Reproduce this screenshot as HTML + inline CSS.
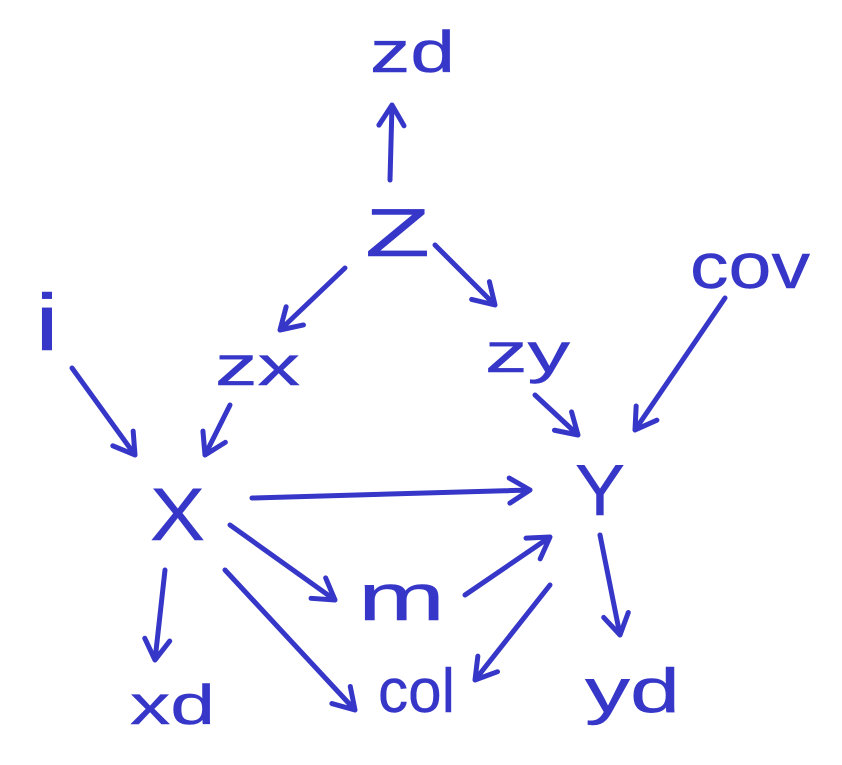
<!DOCTYPE html>
<html><head><meta charset="utf-8">
<style>
html,body{margin:0;padding:0;background:#fff;}
svg{display:block;}
text{font-family:"Liberation Sans",sans-serif;fill:#3636c8;stroke:#3636c8;stroke-width:0.4;}
</style></head>
<body>
<svg id="g" width="842" height="765" viewBox="0 0 842 765">
<g id="labels">
<text x="370" y="72" font-size="58" textLength="85" lengthAdjust="spacingAndGlyphs">zd</text>
<text x="365" y="256" font-size="68" textLength="65" lengthAdjust="spacingAndGlyphs">Z</text>
<text x="35" y="350" font-size="80" textLength="24" lengthAdjust="spacingAndGlyphs">i</text>
<text x="215" y="385" font-size="56" textLength="85" lengthAdjust="spacingAndGlyphs">zx</text>
<text x="485" y="372" font-size="56" textLength="85" lengthAdjust="spacingAndGlyphs">zy</text>
<text x="690" y="288" font-size="64" textLength="120" lengthAdjust="spacingAndGlyphs">cov</text>
<text x="150" y="540" font-size="74" textLength="55" lengthAdjust="spacingAndGlyphs">X</text>
<text x="575" y="515" font-size="72" textLength="50" lengthAdjust="spacingAndGlyphs">Y</text>
<text x="358" y="620" font-size="66" textLength="87" lengthAdjust="spacingAndGlyphs">m</text>
<text x="130" y="724" font-size="56" textLength="85" lengthAdjust="spacingAndGlyphs">xd</text>
<text x="378" y="712" font-size="62" textLength="77" lengthAdjust="spacingAndGlyphs">col</text>
<text x="585" y="712" font-size="62" textLength="95" lengthAdjust="spacingAndGlyphs">yd</text>
</g>
<g id="edges" stroke="#3636c8" stroke-width="5" fill="none" stroke-linecap="round" stroke-linejoin="round"></g>
</svg>
<script>
const edgeNames = ["z-zd","z-zx","z-zy","i-x","zx-x","zy-y","cov-y","x-y","x-m","x-xd","x-col","m-y","y-col","y-yd"];
const edgeFrom = [[390,180],[345,268],[435,245],[72,368],[230,405],[535,395],[725,298],[252,498],[230,525],[165,570],[225,570],[465,595],[550,585],[600,535]];
const edgeTo = [[392,105],[280,330],[495,305],[135,455],[205,455],[578,435],[635,430],[530,490],[335,600],[155,660],[355,710],[550,537],[475,680],[620,635]];
const g = document.getElementById('edges');
const NS = 'http://www.w3.org/2000/svg';
edgeNames.forEach((n, i) => {
  const [x1, y1] = edgeFrom[i], [x2, y2] = edgeTo[i];
  const a = Math.atan2(y2 - y1, x2 - x1), L = 24, s = 0.55;
  const ax = x2 - L * Math.cos(a - s), ay = y2 - L * Math.sin(a - s);
  const bx = x2 - L * Math.cos(a + s), by = y2 - L * Math.sin(a + s);
  const p = document.createElementNS(NS, 'path');
  p.setAttribute('d', `M${x1},${y1} L${x2},${y2} M${ax},${ay} L${x2},${y2} L${bx},${by}`);
  
  
  g.appendChild(p);
});
</script>
</body></html>
